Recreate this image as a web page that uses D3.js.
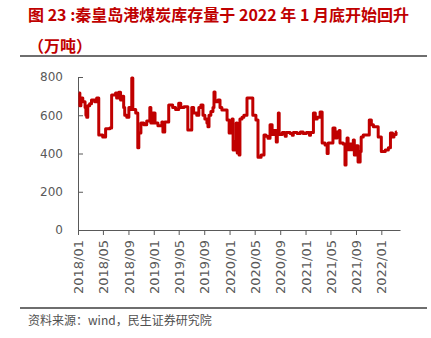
<!DOCTYPE html>
<html>
<head>
<meta charset="utf-8">
<script src="https://cdn.jsdelivr.net/npm/d3@7/dist/d3.min.js"></script>
<style>
  html, body { margin: 0; padding: 0; background: #fff; }
  svg { display: block; }
</style>
</head>
<body>
<svg id="chart" width="431" height="338"></svg>
<script>
// Qinhuangdao port coal inventory (10k tonnes), change points of the series
const dates = [
  "2018-01-05","2018-01-10","2018-01-15","2018-01-24","2018-02-04","2018-02-08","2018-02-12","2018-02-17","2018-02-26","2018-03-07",
  "2018-03-22","2018-04-01","2018-04-11","2018-04-30","2018-05-14","2018-06-03","2018-06-12","2018-07-01","2018-07-06","2018-07-16",
  "2018-07-25","2018-08-04","2018-08-09","2018-08-14","2018-08-24","2018-09-03","2018-09-12","2018-09-17","2018-09-22","2018-10-06",
  "2018-10-16","2018-10-21","2018-10-31","2018-11-14","2018-11-28","2018-12-13","2018-12-18","2018-12-28","2019-01-07","2019-01-21",
  "2019-02-09","2019-02-14","2019-02-23","2019-03-14","2019-04-02","2019-04-16","2019-05-01","2019-05-11","2019-05-26","2019-06-14",
  "2019-07-03","2019-07-12","2019-07-27","2019-08-06","2019-08-16","2019-08-26","2019-09-04","2019-09-14","2019-09-19","2019-09-24",
  "2019-10-03","2019-10-13","2019-10-18","2019-10-23","2019-11-06","2019-11-16","2019-11-25","2019-12-10","2019-12-20","2019-12-30",
  "2020-01-08","2020-01-13","2020-01-18","2020-01-28","2020-02-02","2020-02-07","2020-02-11","2020-02-16","2020-02-20","2020-03-01",
  "2020-03-10","2020-03-20","2020-03-25","2020-04-13","2020-04-22","2020-05-07","2020-05-17","2020-06-01","2020-06-15","2020-06-24",
  "2020-07-04","2020-07-14","2020-07-24","2020-08-03","2020-08-13","2020-08-18","2020-08-23","2020-08-27","2020-09-11","2020-09-25",
  "2020-09-30","2020-10-19","2020-10-29","2020-11-03","2020-11-22","2020-12-07","2020-12-21","2021-01-05","2021-01-20","2021-01-25",
  "2021-02-08","2021-02-17","2021-02-26","2021-03-12","2021-03-22","2021-04-05","2021-04-15","2021-04-20","2021-05-13","2021-05-23",
  "2021-06-02","2021-06-12","2021-06-16","2021-07-01","2021-07-10","2021-07-15","2021-07-20","2021-07-25","2021-08-04","2021-08-14",
  "2021-08-19","2021-08-24","2021-09-02","2021-09-11","2021-09-21","2021-09-26","2021-10-06","2021-10-20","2021-11-04","2021-11-14",
  "2021-11-24","2021-12-08","2021-12-17","2022-01-01","2022-01-20","2022-02-04","2022-02-14","2022-02-24","2022-03-03","2022-03-13",
  "2022-03-17"
];
const values = [
  716, 650, 690, 670, 640, 600, 590, 650, 660, 680,
  670, 690, 497, 486, 530, 533, 706, 716, 690, 720,
  680, 700, 640, 600, 590, 640, 630, 795, 630, 612,
  430, 507, 560, 550, 570, 640, 560, 612, 560, 545,
  565, 512, 565, 653, 640, 630, 663, 640, 645, 523,
  640, 612, 600, 640, 653, 600, 580, 560, 540, 600,
  620, 640, 722, 670, 680, 640, 627, 627, 575, 507,
  540, 580, 418, 460, 560, 402, 480, 392, 580, 590,
  600, 600, 690, 690, 600, 575, 380, 392, 497, 490,
  480, 550, 500, 520, 460, 500, 612, 500, 510, 490,
  510, 505, 495, 510, 505, 512, 505, 510, 495, 510,
  612, 580, 590, 617, 455, 445, 400, 455, 533, 481,
  512, 520, 455, 450, 340, 420, 481, 420, 450, 420,
  470, 392, 440, 355, 410, 486, 497, 497, 575, 550,
  540, 540, 486, 410, 418, 430, 507, 486, 500, 512,
  512
];

const yTicks = [0, 200, 400, 600, 800];
const titleLines = ["图 23 :秦皇岛港煤炭库存量于 2022 年 1 月底开始回升", "（万吨）"];
const sourceText = "资料来源：wind，民生证券研究院";

const parse = d3.timeParse("%Y-%m-%d");
const series = dates.map((d, i) => ({ date: parse(d), value: values[i] }));

const svg = d3.select("#chart");
const red = "#c00000";
const axisGrey = "#595959";
const cjk = "'Noto Sans CJK SC', 'Noto Sans', sans-serif";

// Title
svg.append("g").selectAll("text")
  .data(titleLines)
  .join("text")
  .attr("x", 28)
  .attr("y", (d, i) => 21 + i * 31)
  .attr("font-family", cjk)
  .attr("font-weight", "bold")
  .attr("font-size", 16)
  .attr("fill", red)
  .text(d => d);

// Rules above and below the plot
svg.append("line").attr("x1", 20).attr("x2", 427).attr("y1", 56).attr("y2", 56)
  .attr("stroke", "#6e6e6e").attr("stroke-width", 2);
svg.append("line").attr("x1", 20).attr("x2", 427).attr("y1", 308).attr("y2", 308)
  .attr("stroke", "#6e6e6e").attr("stroke-width", 2);

// Source note
svg.append("text")
  .attr("x", 28).attr("y", 325)
  .attr("font-family", cjk)
  .attr("font-size", 12)
  .attr("fill", "#505050")
  .text(sourceText);

// Scales
const x = d3.scaleTime()
  .domain([parse("2018-01-01"), parse("2022-04-01")])
  .range([78, 400]);
const y = d3.scaleLinear().domain([0, 800]).range([230, 77]);

// Y axis
const yAxis = svg.append("g")
  .attr("transform", "translate(78,0)")
  .call(d3.axisLeft(y).tickValues(yTicks).tickSize(-5).tickPadding(15).tickSizeOuter(0));
yAxis.select(".domain").attr("stroke", axisGrey);
yAxis.selectAll(".tick line").attr("stroke", axisGrey);
yAxis.selectAll(".tick text")
  .attr("font-family", "'DejaVu Sans', sans-serif")
  .attr("font-size", 12)
  .attr("fill", axisGrey);

// X axis
const xAxis = svg.append("g")
  .attr("transform", "translate(0,230)")
  .call(d3.axisBottom(x)
    .ticks(d3.timeMonth.every(4))
    .tickFormat(d3.timeFormat("%Y/%m"))
    .tickSize(5)
    .tickSizeOuter(0));
xAxis.select(".domain").attr("stroke", axisGrey);
xAxis.selectAll(".tick line").attr("stroke", axisGrey);
xAxis.selectAll(".tick text")
  .attr("font-family", "'DejaVu Sans', sans-serif")
  .attr("font-size", 13)
  .attr("fill", axisGrey)
  .attr("transform", "rotate(-90)")
  .attr("text-anchor", "end")
  .attr("x", -10)
  .attr("y", 0)
  .attr("dy", "0.35em");

// Inventory line
const line = d3.line()
  .x(d => x(d.date))
  .y(d => y(d.value))
  .curve(d3.curveStepAfter);

svg.append("path")
  .datum(series)
  .attr("d", line)
  .attr("fill", "none")
  .attr("stroke", red)
  .attr("stroke-width", 3)
  .attr("stroke-linejoin", "round");
</script>
</body>
</html>
